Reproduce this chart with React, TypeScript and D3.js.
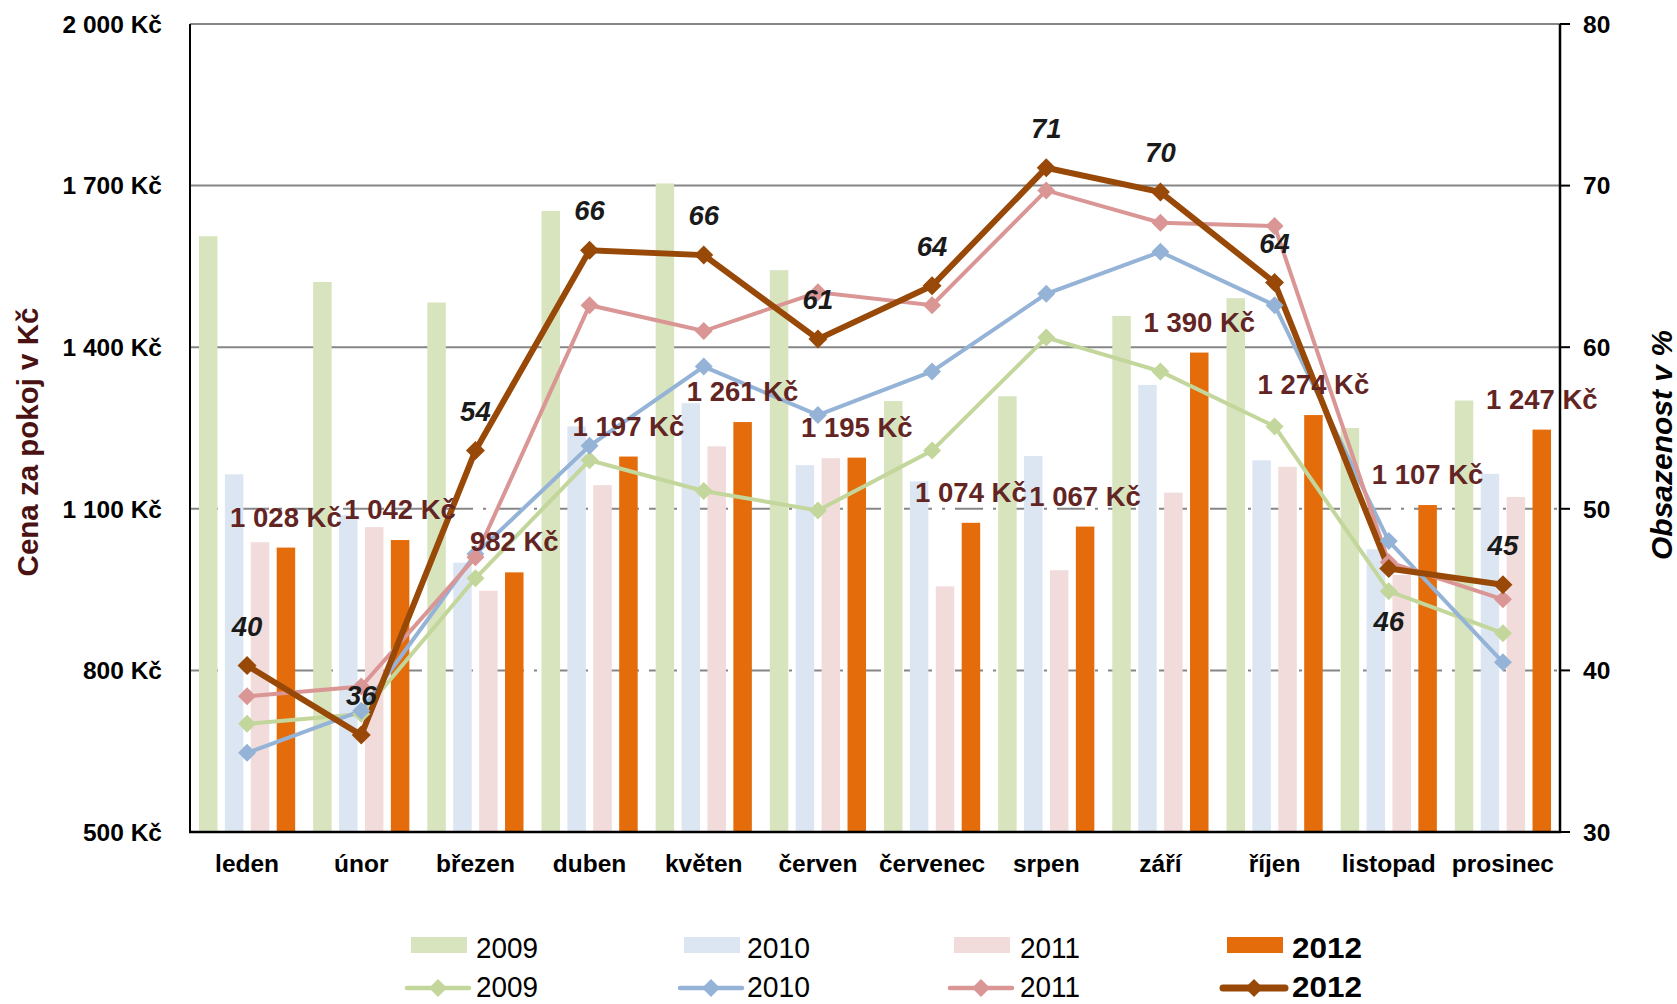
import React from "react";
import * as d3 from "d3";

const months = ["leden", "únor", "březen", "duben", "květen", "červen", "červenec", "srpen", "září", "říjen", "listopad", "prosinec"];
const years = ["2009", "2010", "2011", "2012"];

// Cena za pokoj v Kč (bars)
const price2009 = [1606, 1521, 1483, 1653, 1704, 1543, 1300, 1309, 1458, 1491, 1250, 1301];
const price2010 = [1164, 1088, 1000, 1253, 1296, 1181, 1151, 1198, 1330, 1190, 1025, 1165];
const price2011 = [1038, 1066, 948, 1144, 1216, 1194, 956, 986, 1130, 1178, 977, 1122];
const price2012 = [1028, 1042, 982, 1197, 1261, 1195, 1074, 1067, 1390, 1274, 1107, 1247];

// Obsazenost v % (lines)
const occ2009 = [36.7, 37.3, 45.7, 53.0, 51.1, 49.9, 53.6, 60.6, 58.5, 55.1, 44.9, 42.3];
const occ2010 = [34.9, 37.5, 47.2, 53.9, 58.8, 55.8, 58.5, 63.3, 65.9, 62.6, 48.0, 40.5];
const occ2011 = [38.4, 39.0, 47.0, 62.6, 61.0, 63.4, 62.6, 69.7, 67.7, 67.5, 46.7, 44.4];
const occ2012 = [40.3, 36.0, 53.6, 66.0, 65.7, 60.5, 63.8, 71.1, 69.6, 64.0, 46.3, 45.3];

const leftTicks = [500, 800, 1100, 1400, 1700, 2000];
const dashedTicks = [800, 1100];
const rightTicks = [30, 40, 50, 60, 70, 80];

const barColors = ["#d7e4bd", "#dce6f2", "#f2dcdb", "#e46c0a"];
const lineColors = ["#c3d69b", "#95b3d7", "#d99694", "#984807"];

const prices = [price2009, price2010, price2011, price2012];
const occs = [occ2009, occ2010, occ2011, occ2012];

const W = 1677;
const H = 1004;
const L = 190, R = 1560, T = 24, B = 832;
const FONT = "'Liberation Sans', Arial, Helvetica, sans-serif";

const thousands = (v: number) => d3.format(",")(v).replace(/,/g, " ");
const kc = (v: number) => `${thousands(v)} Kč`;

const diamond = (cx: number, cy: number, r: number) =>
  `M${cx},${cy - r}L${cx + r},${cy}L${cx},${cy + r}L${cx - r},${cy}Z`;

export default function App() {
  const x0 = d3.scaleBand<string>().domain(months).range([L, R]).padding(0);
  const x1 = d3.scaleBand<string>().domain(years).range([0, x0.bandwidth()]).paddingInner(0.286).paddingOuter(0.347);
  const yL = d3.scaleLinear().domain([500, 2000]).range([B, T]);
  const yR = d3.scaleLinear().domain([30, 80]).range([B, T]);
  const cx = (m: string) => (x0(m) as number) + x0.bandwidth() / 2;

  const line = (arr: number[]) =>
    d3.line<number>().x((_, i) => cx(months[i])).y((d) => yR(d))(arr) as string;

  const legendCols = [
    { sx: 411, tx: 476, tl: 62 },
    { sx: 684, tx: 747, tl: 63 },
    { sx: 954, tx: 1020, tl: 60 },
    { sx: 1227, tx: 1292, tl: 70 },
  ];

  return (
    <svg width={W} height={H} style={{ position: "absolute", left: 0, top: 0, background: "#fff" }} fontFamily={FONT}>
      {/* gridlines */}
      {leftTicks.filter((t) => t !== 500).map((t) => (
        <line key={t} x1={L} x2={R} y1={yL(t)} y2={yL(t)} stroke="#868686" strokeWidth={2}
          strokeDasharray={dashedTicks.includes(t) ? "28 10 3 10" : undefined} />
      ))}

      {/* bars */}
      {years.map((yr, s) => (
        <g key={yr}>
          {months.map((m, i) => (
            <rect key={m} x={(x0(m) as number) + (x1(yr) as number)} width={x1.bandwidth()}
              y={yL(prices[s][i])} height={B - yL(prices[s][i])} fill={barColors[s]} />
          ))}
        </g>
      ))}

      {/* axes */}
      <line x1={L} x2={L} y1={T} y2={B} stroke="#000" strokeWidth={2} />
      <line x1={R} x2={R} y1={T} y2={B + 1} stroke="#000" strokeWidth={2.5} />
      <line x1={L - 1} x2={R + 1} y1={B} y2={B} stroke="#000" strokeWidth={2.5} />
      {rightTicks.map((t) => (
        <line key={t} x1={R} x2={R + 10} y1={yR(t)} y2={yR(t)} stroke="#000" strokeWidth={2} />
      ))}

      {/* tick labels */}
      {leftTicks.map((t) => (
        <text key={t} x={162} y={yL(t)} dy="0.36em" textAnchor="end" fontSize={24.5} fontWeight="bold" fill="#000">{kc(t)}</text>
      ))}
      {rightTicks.map((t) => (
        <text key={t} x={1583} y={yR(t)} dy="0.36em" textAnchor="start" fontSize={24.5} fontWeight="bold" fill="#000">{t}</text>
      ))}
      {months.map((m) => (
        <text key={m} x={cx(m)} y={872} textAnchor="middle" fontSize={24.5} fontWeight="bold" fill="#000">{m}</text>
      ))}

      {/* axis titles */}
      <text transform="translate(38,442) rotate(-90)" textAnchor="middle" fontSize={29.5} fontWeight="bold" fill="#4a1212">Cena za pokoj v Kč</text>
      <text transform="translate(1672,445) rotate(-90)" textAnchor="middle" fontSize={30} fontStyle="italic" fontWeight="bold" fill="#000">Obsazenost v %</text>

      {/* lines */}
      {years.map((yr, s) => (
        <path key={yr} d={line(occs[s])} fill="none" stroke={lineColors[s]} strokeWidth={s === 3 ? 6 : 4} strokeLinejoin="miter" />
      ))}
      {years.map((yr, s) => (
        <g key={yr}>
          {months.map((m, i) => (
            <path key={m} d={diamond(cx(m), yR(occs[s][i]), s === 3 ? 9.5 : 9)} fill={lineColors[s]} />
          ))}
        </g>
      ))}

      {/* bar labels 2012 */}
      {months.map((m, i) => (
        <text key={m} x={(x0(m) as number) + (x1("2012") as number) + x1.bandwidth() / 2} y={yL(price2012[i]) - 21}
          textAnchor="middle" fontSize={27.5} fontWeight="bold" fill="#632523">{kc(price2012[i])}</text>
      ))}

      {/* line labels 2012 */}
      {months.map((m, i) => (
        <text key={m} x={cx(m)} y={m === "listopad" ? yR(occ2012[i]) + 62 : yR(occ2012[i]) - 30}
          textAnchor="middle" fontSize={27.5} fontWeight="bold" fontStyle="italic" fill="#1a1a1a">{Math.round(occ2012[i])}</text>
      ))}

      {/* legend */}
      {years.map((yr, s) => {
        const c = legendCols[s];
        const bold = s === 3;
        return (
          <g key={yr}>
            <rect x={c.sx} y={937} width={56} height={16} fill={barColors[s]} />
            <text x={c.tx} y={958} fontSize={30} fontWeight={bold ? "bold" : "normal"} textLength={c.tl} lengthAdjust="spacingAndGlyphs" fill="#000">{yr}</text>
            <line x1={c.sx - 4} x2={c.sx + 58} y1={988} y2={988} stroke={lineColors[s]} strokeWidth={bold ? 7 : 4.5} strokeLinecap="round" />
            <path d={diamond(c.sx + 27, 988, 9)} fill={lineColors[s]} />
            <text x={c.tx} y={997} fontSize={29} fontWeight={bold ? "bold" : "normal"} textLength={c.tl} lengthAdjust="spacingAndGlyphs" fill="#000">{yr}</text>
          </g>
        );
      })}
    </svg>
  );
}
